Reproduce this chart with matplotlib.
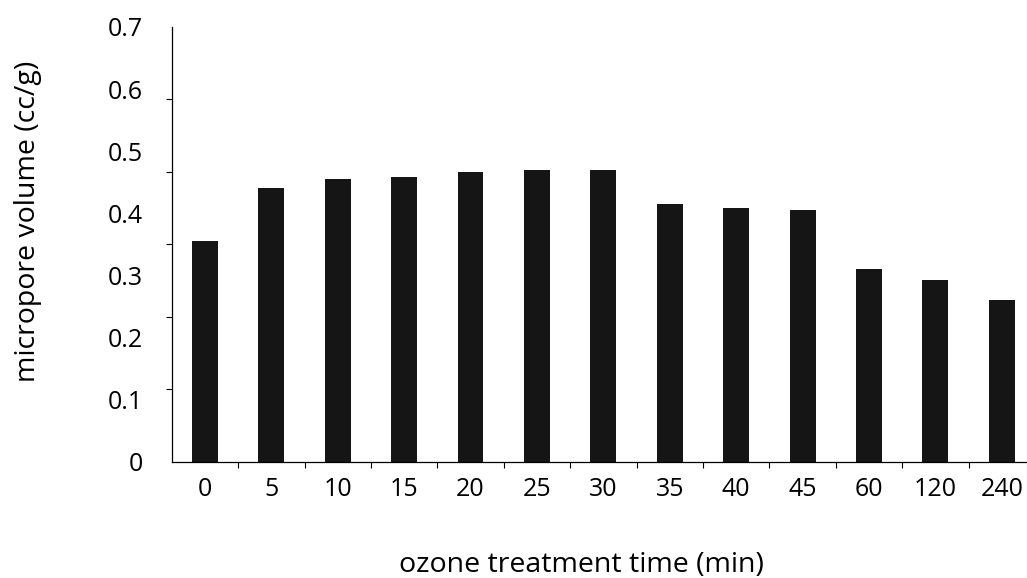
import numpy as np
import matplotlib
matplotlib.use('Agg')
import matplotlib.pyplot as plt
from matplotlib.ticker import FixedLocator

plt.rcParams['font.family'] = ['Open Sans', 'DejaVu Sans']

# 数据
times = ['0', '5', '10', '15', '20', '25', '30', '35', '40', '45', '60', '120', '240']
volume = [0.356, 0.441, 0.455, 0.459, 0.467, 0.470, 0.470,
          0.415, 0.409, 0.406, 0.310, 0.293, 0.261]
y_ticks = [0, 0.1, 0.2, 0.3, 0.4, 0.5, 0.6, 0.7]

fig = plt.figure(figsize=(10.27, 5.78), dpi=100)
ax = fig.add_axes([0.1672, 0.2007, 0.8328, 0.7526])

x = np.arange(len(times))
ax.bar(x, volume, width=0.39, color='#151515')

ax.set_xlim(-0.5, 12.38)
ax.set_ylim(0, 0.7)

ax.spines['top'].set_visible(False)
ax.spines['right'].set_visible(False)
ax.spines['left'].set_linewidth(0.9)
ax.spines['bottom'].set_linewidth(0.9)

# y 轴：标签在 0.1 间隔，刻度线（扫描图中）按 6 等分
ax.set_yticks(y_ticks)
ax.set_yticklabels([f'{v:g}' for v in y_ticks])
ax.yaxis.set_minor_locator(FixedLocator(np.linspace(0, 0.7, 7)))
ax.tick_params(axis='y', which='major', length=0, pad=21, labelsize=18)
ax.tick_params(axis='y', which='minor', length=4, width=0.8, direction='out')

# x 轴：刻度线在类别之间
ax.set_xticks(x)
ax.set_xticklabels(times)
ax.xaxis.set_minor_locator(FixedLocator(np.arange(0.5, 12.5, 1)))
ax.tick_params(axis='x', which='major', length=0, pad=11, labelsize=18)
ax.tick_params(axis='x', which='minor', length=4, width=0.8, direction='out')

ax.set_ylabel('micropore volume (cc/g)', fontsize=20.5)
ax.set_xlabel('ozone treatment time (min)', fontsize=20.5)
ax.xaxis.set_label_coords(0.479, -0.205)
ax.yaxis.set_label_coords(-0.152, 0.554)

fig.savefig('out.png', dpi=100)
